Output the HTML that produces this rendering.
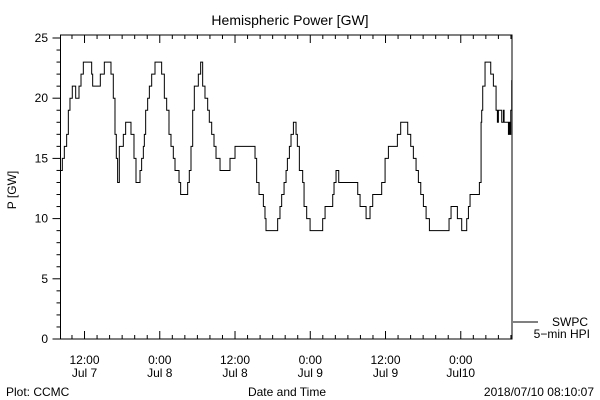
<!DOCTYPE html>
<html><head><meta charset="utf-8"><style>
body{margin:0;background:#fff}
svg{display:block;font-family:"Liberation Sans",sans-serif}
text{fill:#000}
</style></head><body>
<svg width="600" height="400" viewBox="0 0 600 400">
<text x="290" y="25" font-size="14" text-anchor="middle">Hemispheric Power [GW]</text>
<rect x="60.5" y="35" width="451.5" height="304" fill="none" stroke="#000" stroke-width="1"/>
<g id="yaxis"></g>
<g id="xaxis"></g>
<path id="series" fill="none" stroke="#000" stroke-width="1"/>
<text x="16" y="190" font-size="12" text-anchor="middle" transform="rotate(-90 16 190)">P [GW]</text>
<line x1="513" y1="322" x2="538" y2="322" stroke="#000"/>
<text x="588" y="326" font-size="12" text-anchor="end">SWPC</text>
<text x="590" y="338" font-size="12" text-anchor="end">5−min HPI</text>
<text x="6" y="396" font-size="12">Plot: CCMC</text>
<text x="287" y="396" font-size="12" text-anchor="middle">Date and Time</text>
<text x="594" y="396" font-size="12" text-anchor="end">2018/07/10 08:10:07</text>
</svg>
<script>
const hours=[0,0.29,0.61,0.98,1.25,1.51,1.88,2.42,2.95,3.27,3.64,4.97,5.13,6.35,6.99,8.05,8.42,8.69,8.9,9.11,9.38,10.02,10.39,11.24,11.72,12.04,12.68,12.94,13.21,13.37,13.58,13.9,14.17,14.54,15.07,16.13,16.56,16.93,17.3,17.62,17.99,18.26,18.9,19.16,20.28,20.54,20.81,21.08,21.34,21.98,22.35,22.67,23.04,23.47,23.73,24.11,24.48,24.8,25.44,27.03,27.83,31.02,31.28,31.66,32.35,32.61,32.77,34.63,35.0,35.27,35.65,35.97,36.18,36.5,36.76,37.14,37.56,37.77,38.09,38.62,38.84,39.26,39.8,41.81,42.19,43.41,43.62,43.94,44.37,47.4,47.77,48.73,49.36,49.79,51.22,51.76,52.29,53.72,54.25,55.37,55.85,56.27,56.7,57.07,57.45,57.87,58.3,58.83,61.96,62.28,63.29,63.98,64.78,65.05,65.31,66.8,67.07,67.17,67.33,67.7,68.61,69.03,69.46,69.67,69.83,70.36,70.63,70.74,71.43,71.59,71.69,71.8,71.96];
const power=[14,15,16,17,19,20,21,20,21,22,23,22,21,22,23,22,20,17,15,13,16,17,18,17,15,13,14,15,16,17,19,20,21,22,23,22,20,19,17,16,15,14,13,12,13,14,16,19,21,22,23,21,20,19,18,17,16,15,14,15,16,15,13,12,11,10,9,10,11,12,13,14,15,16,17,18,17,16,14,13,11,10,9,10,11,12,13,14,13,12,11,10,11,12,13,15,16,17,18,17,16,15,14,13,12,11,10,9,10,11,10,9,10,11,12,13,18,19,21,23,22,21,19,18,19,18,19,18,17,18,17,19,21.5];
const yTicks=[0,5,10,15,20,25];
const xTickLabels=[["12:00","Jul 7"],["0:00","Jul 8"],["12:00","Jul 8"],["0:00","Jul 9"],["12:00","Jul 9"],["0:00","Jul10"]];
const xTickHours=[3.83,15.83,27.83,39.83,51.83,63.83];
const X0=60.5,X1=512,TMAX=72,Y0=339,PXU=12.04;
const xs=h=>X0+(X1-X0)*h/TMAX;
const ys=v=>Y0-v*PXU;
const NS="http://www.w3.org/2000/svg";
function mk(tag,attrs,parent){const e=document.createElementNS(NS,tag);for(const k in attrs)e.setAttribute(k,attrs[k]);parent.appendChild(e);return e;}
const ya=document.getElementById('yaxis'),xa=document.getElementById('xaxis');
for(let v=0;v<=25;v++){
 const len=v%5===0?8:4;
 const t=mk('line',{x1:X0-len,x2:X0,y1:ys(v),y2:ys(v),stroke:'#000'},ya);
 
 
}
yTicks.forEach(v=>{
 const t=mk('text',{x:48,y:ys(v)+4,'font-size':12,'text-anchor':'end'},ya);
 t.textContent=v;
 
 
});
for(let h=xTickHours[0]-12;h<=TMAX;h+=2){
 if(h<0)continue;
 const major=xTickHours.some(m=>Math.abs(m-h)<0.01);
 const len=major?8:4;
 const t=mk('line',{x1:xs(h),x2:xs(h),y1:Y0,y2:Y0-len,stroke:'#000'},xa);
 
 
 const t2=mk('line',{x1:xs(h),x2:xs(h),y1:35,y2:35+len,stroke:'#000'},xa);
 
 
}
xTickHours.forEach((h,i)=>{
 const a=mk('text',{x:xs(h),y:364,'font-size':12,'text-anchor':'middle'},xa);
 a.textContent=xTickLabels[i][0];
 
 
 const b=mk('text',{x:xs(h),y:377,'font-size':12,'text-anchor':'middle'},xa);
 b.textContent=xTickLabels[i][1];
 
 
});
let d='M'+xs(hours[0])+' '+ys(power[0]);
for(let i=1;i<hours.length;i++){d+=' H'+xs(hours[i]).toFixed(2)+' V'+ys(power[i]).toFixed(2);}
document.getElementById('series').setAttribute('d',d);
</script>
</body></html>
